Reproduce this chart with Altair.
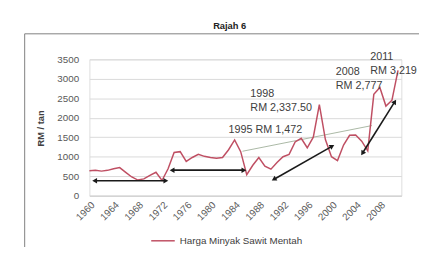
import math
import altair as alt
import pandas as pd

# ---- data ----
years = list(range(1960, 2012))
prices = [640, 650, 630, 650, 690, 720, 600, 480, 400, 430, 520, 600, 390,
          690, 1110, 1130, 880, 980, 1060, 1010, 980, 960, 980, 1180, 1430, 1130,
          540, 780, 980, 760, 680, 850, 1000, 1060, 1380, 1472, 1230, 1500, 2337.5,
          1440, 1000, 900, 1300, 1550, 1560, 1400, 1150, 2600, 2777, 2300, 2450, 3219]
series_name = "Harga Minyak Sawit Mentah"

# double-headed arrows (start / end in data units)
arrow_x1 = [1961.0, 1973.8, 1990.6, 2005.2]
arrow_y1 = [385, 655, 428, 1108]
arrow_x2 = [1972.5, 1985.4, 2000.0, 2010.4]
arrow_y2 = [385, 655, 1260, 2393]

# thin trend line
trend_x1 = [1985.3]
trend_y1 = [1140]
trend_x2 = [2006.7]
trend_y2 = [1800]

# annotations
ann_text = ["1998", "RM 2,337.50", "1995 RM 1,472", "2008", "RM 2,777", "2011", "RM 3,219"]
ann_x = [1986.6, 1986.6, 1983.0, 2000.7, 2000.7, 2006.4, 2006.4]
ann_y = [2620, 2245, 1690, 3170, 2820, 3570, 3200]

x_ticks = list(range(1960, 2009, 4))
y_ticks = list(range(0, 3501, 500))

# ---- layout ----
W, H = 318, 139
XDOM = [1960, 2011.55]
YDOM = [0, 3500]
PX = W / (XDOM[1] - XDOM[0])
PY = H / (YDOM[1] - YDOM[0])

FONT = "Liberation Sans"
LINE_COL = "#bf4f63"
TXT = "#404040"

xscale = alt.Scale(domain=XDOM, nice=False, zero=False)
yscale = alt.Scale(domain=YDOM, nice=False)
xaxis = alt.Axis(values=x_ticks, format="d", labelAngle=-45, labelAlign="right",
                 labelBaseline="top", labelPadding=4, ticks=False, grid=False,
                 domainColor="#d0d0d0", labelFontSize=10, labelColor="#595959",
                 labelFont=FONT, title=None, labelOverlap=False)
yaxis = alt.Axis(values=y_ticks, format="d", ticks=False, grid=True, gridColor="#d9d9d9",
                 domain=False, labelFontSize=10, labelColor="#595959", labelFont=FONT,
                 labelPadding=11, title="RM / tan", titleFontSize=9.5, titleFont=FONT,
                 titleColor=TXT, titleFontWeight="bold", titleX=-50, titleY=70,
                 titleAngle=270, titleBaseline="middle", titleAlign="center")


def X(f):
    return alt.X(f, type="quantitative", scale=xscale, axis=xaxis)


def Y(f):
    return alt.Y(f, type="quantitative", scale=yscale, axis=yaxis)


df = pd.DataFrame({"year": years, "price": prices, "series": series_name})

line = alt.Chart(df).mark_line(strokeWidth=1.5).encode(
    x=X("year"), y=Y("price"),
    color=alt.Color("series:N", scale=alt.Scale(domain=[series_name], range=[LINE_COL]),
                    legend=alt.Legend(orient="none", legendX=62, legendY=172, title=None,
                                      symbolType="stroke", symbolSize=576,
                                      symbolStrokeWidth=1.5, labelFontSize=10,
                                      labelFont=FONT, labelColor=TXT, labelOffset=4,
                                      padding=0)),
)

trend_df = pd.DataFrame({"x1": trend_x1, "y1": trend_y1, "x2": trend_x2, "y2": trend_y2})
trend = alt.Chart(trend_df).mark_rule(color="#a9b8a4", strokeWidth=1).encode(
    x=X("x1"), y=Y("y1"), x2="x2", y2="y2")

arr_df = pd.DataFrame({"x1": arrow_x1, "y1": arrow_y1, "x2": arrow_x2, "y2": arrow_y2})
arrows = alt.Chart(arr_df).mark_rule(color="#1a1a1a", strokeWidth=1.6).encode(
    x=X("x1"), y=Y("y1"), x2="x2", y2="y2")

heads = []
for a, b, c, d in zip(arrow_x1, arrow_y1, arrow_x2, arrow_y2):
    ang = math.degrees(math.atan2((c - a) * PX, (d - b) * PY)) % 360
    heads.append({"hx": c, "hy": d, "ang": ang})
    heads.append({"hx": a, "hy": b, "ang": (ang + 180) % 360})
head_df = pd.DataFrame(heads)
arrowheads = alt.Chart(head_df).mark_point(shape="triangle", filled=True, size=32,
                                           color="#1a1a1a", opacity=1).encode(
    x=X("hx"), y=Y("hy"), angle=alt.Angle("ang:Q", scale=None))

ann_df = pd.DataFrame({"t": ann_text, "ax": ann_x, "ay": ann_y})
notes = alt.Chart(ann_df).mark_text(align="left", baseline="middle", fontSize=11,
                                    font=FONT, color=TXT).encode(
    x=X("ax"), y=Y("ay"), text="t:N")

one = pd.DataFrame({"t": ["Rajah 6"]})
title = alt.Chart(one).mark_text(align="center", baseline="middle", fontSize=9.5,
                                 fontWeight="bold", font=FONT, color="#222222").encode(
    x=alt.value(143), y=alt.value(-34), text="t:N")

frame_top = alt.Chart(one).mark_rule(color="#808080", strokeWidth=1).encode(
    x=alt.value(-66), x2=alt.value(345), y=alt.value(-26))
frame_left = alt.Chart(one).mark_rule(color="#808080", strokeWidth=1).encode(
    x=alt.value(-66), y=alt.value(-26), y2=alt.value(205))

chart = alt.layer(frame_top, frame_left, trend, line, arrows, arrowheads, notes, title).properties(
    width=W, height=H,
    padding={"left": 83, "top": 50, "right": 18, "bottom": 50},
    autosize=alt.AutoSizeParams(type="none"),
).configure_view(stroke=None).configure(font=FONT)

chart.save("out.html", embed_options={"renderer": "svg", "actions": False})
